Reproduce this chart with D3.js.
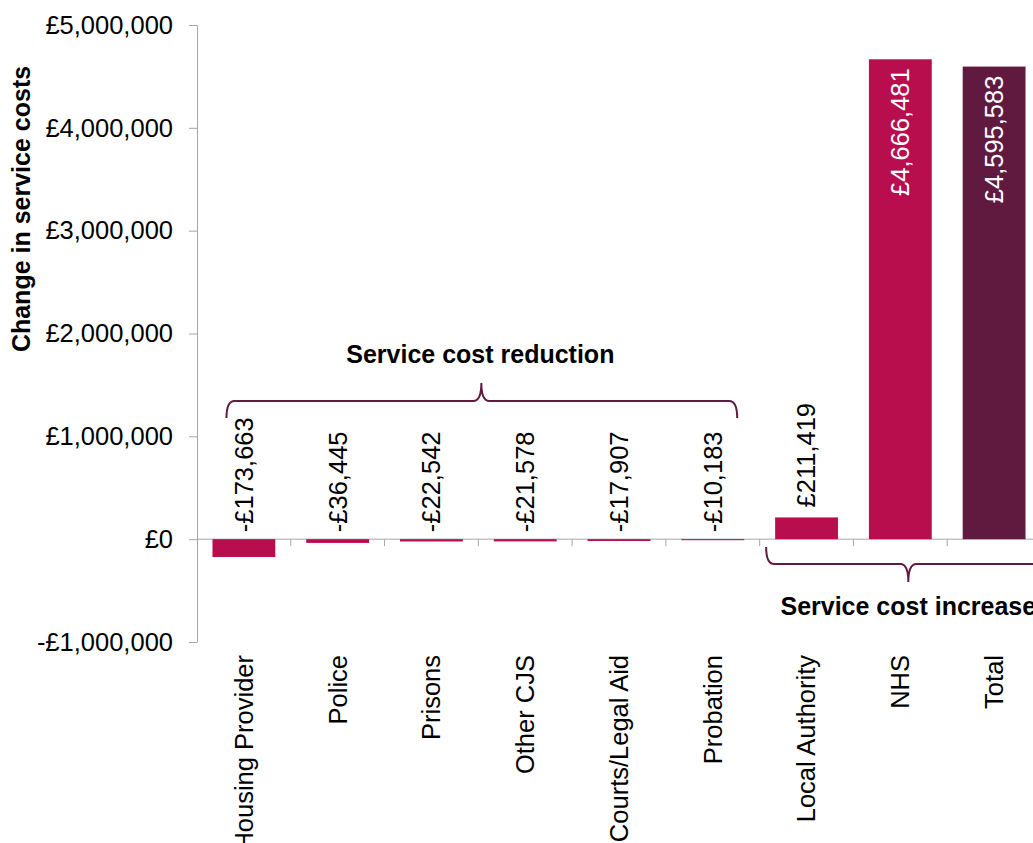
<!DOCTYPE html>
<html>
<head>
<meta charset="utf-8">
<script src="https://d3js.org/d3.v7.min.js"></script>
<style>
	body { margin: 0; background: #fff; }
	text { font-family: "Liberation Sans", Arial, sans-serif; }
</style>
</head>
<body>
<div id="chart-area"></div>
<script>

// data
let categories = ["Housing Provider", "Police", "Prisons", "Other CJS", "Courts/Legal Aid",
	"Probation", "Local Authority", "NHS", "Total"];
let values = [-173663, -36445, -22542, -21578, -17907, -10183, 211419, 4666481, 4595583];
let yTicks = [-1000000, 0, 1000000, 2000000, 3000000, 4000000, 5000000];
let groups = [
	{ label: "Service cost reduction", first: "Housing Provider", last: "Probation" },
	{ label: "Service cost increase", first: "Local Authority", last: "Total" }
];

let data = categories.map(function(c, i) {
	return { category: c, value: values[i] };
});

// SVG Size
let width = 1033,
	height = 843;

let svg = d3.select("#chart-area")
	.append("svg")
	.attr("width", width)
	.attr("height", height);

let left = 197, right = 1041;
let fontSize = 25.5, boldSize = 25;

let x = d3.scaleBand()
	.domain(categories)
	.range([left, right])
	.paddingInner(0.33)
	.paddingOuter(0.165);

let y = d3.scaleLinear()
	.domain([-1000000, 5000000])
	.range([642, 25]);

let money = function(v) {
	return (v < 0 ? "-" : "") + "£" + d3.format(",")(Math.abs(v));
};

let axisColor = "#a6a6a6";
let barColor = "#b80e4e",
	totalColor = "#601a3f",
	braceColor = "#611b40";

// y axis
let yAxis = d3.axisLeft(y)
	.tickValues(yTicks)
	.tickFormat(money)
	.tickSizeInner(8)
	.tickSizeOuter(0)
	.tickPadding(16);

let gy = svg.append("g")
	.attr("transform", "translate(" + left + ",0)")
	.call(yAxis);
gy.selectAll("text").attr("font-size", fontSize).attr("fill", "#000").attr("font-family", null);
gy.selectAll("line, path").attr("stroke", axisColor);

svg.append("text")
	.attr("transform", "translate(30,209) rotate(-90)")
	.attr("text-anchor", "middle")
	.attr("font-size", boldSize)
	.attr("font-weight", "bold")
	.text("Change in service costs");

// x axis line with ticks between the bands
let y0 = y(0);
svg.append("line")
	.attr("x1", left).attr("x2", width)
	.attr("y1", y0).attr("y2", y0)
	.attr("stroke", axisColor);

svg.selectAll(".xtick")
	.data(categories)
	.enter()
	.append("line")
	.attr("class", "xtick")
	.attr("x1", function(d) { return x(d) + x.bandwidth() + x.step() * x.paddingInner() / 2; })
	.attr("x2", function(d) { return x(d) + x.bandwidth() + x.step() * x.paddingInner() / 2; })
	.attr("y1", y0).attr("y2", y0 + 7)
	.attr("stroke", axisColor);

// bars
svg.selectAll("rect.bar")
	.data(data)
	.enter()
	.append("rect")
	.attr("class", "bar")
	.attr("x", function(d) { return x(d.category); })
	.attr("width", x.bandwidth())
	.attr("y", function(d) { return Math.min(y(d.value), y0); })
	.attr("height", function(d) { return Math.abs(y(d.value) - y0); })
	.attr("fill", function(d) { return d.category == "Total" ? totalColor : barColor; });

// value labels
svg.selectAll("text.value")
	.data(data)
	.enter()
	.append("text")
	.attr("class", "value")
	.attr("transform", function(d) {
		let cx = x(d.category) + x.bandwidth() / 2;
		let ty;
		if (d.value < 0) ty = y0 - 7;
		else if (d.value > 1000000) ty = y(d.value) + 9;
		else ty = y(d.value) - 10;
		return "translate(" + cx + "," + ty + ") rotate(-90)";
	})
	.attr("dy", "0.35em")
	.attr("text-anchor", function(d) { return d.value > 1000000 ? "end" : "start"; })
	.attr("font-size", fontSize)
	.attr("fill", function(d) { return d.value > 1000000 ? "#fff" : "#000"; })
	.text(function(d) { return money(d.value); });

// category labels
svg.selectAll("text.cat")
	.data(categories)
	.enter()
	.append("text")
	.attr("class", "cat")
	.attr("transform", function(d) {
		return "translate(" + (x(d) + x.bandwidth() / 2) + ",655) rotate(-90)";
	})
	.attr("dy", "0.35em")
	.attr("text-anchor", "end")
	.attr("font-size", fontSize)
	.text(function(d) { return d; });

// braces
function brace(x0, x1, xt, yEnd, yMid, yTip) {
	let r = 8;
	return "M" + x0 + "," + yEnd +
		" Q" + x0 + "," + yMid + " " + (x0 + r) + "," + yMid +
		" L" + (xt - r) + "," + yMid +
		" Q" + xt + "," + yMid + " " + xt + "," + yTip +
		" Q" + xt + "," + yMid + " " + (xt + r) + "," + yMid +
		" L" + (x1 - r) + "," + yMid +
		" Q" + x1 + "," + yMid + " " + x1 + "," + yEnd;
}

let g0 = groups[0], g1 = groups[1];
let r0x0 = x(g0.first) + 14,
	r0x1 = x(g0.last) + x.bandwidth() - 7,
	r0xt = (x(g0.first) + x(g0.last) + x.bandwidth()) / 2 + 3;
svg.append("path")
	.attr("d", brace(r0x0, r0x1, r0xt, 418, 401, 383))
	.attr("fill", "none")
	.attr("stroke", braceColor)
	.attr("stroke-width", 2);
svg.append("text")
	.attr("x", r0xt - 1).attr("y", 363)
	.attr("text-anchor", "middle")
	.attr("font-size", boldSize)
	.attr("font-weight", "bold")
	.text(g0.label);

let r1x0 = x(g1.first) - 9,
	r1xt = x(categories[7]) + x.bandwidth() / 2 + 8,
	r1x1 = 2 * r1xt - r1x0;
svg.append("path")
	.attr("d", brace(r1x0, r1x1, r1xt, 547, 564, 582))
	.attr("fill", "none")
	.attr("stroke", braceColor)
	.attr("stroke-width", 2);
svg.append("text")
	.attr("x", r1xt).attr("y", 615)
	.attr("text-anchor", "middle")
	.attr("font-size", boldSize)
	.attr("font-weight", "bold")
	.text(g1.label);

</script>
</body>
</html>
